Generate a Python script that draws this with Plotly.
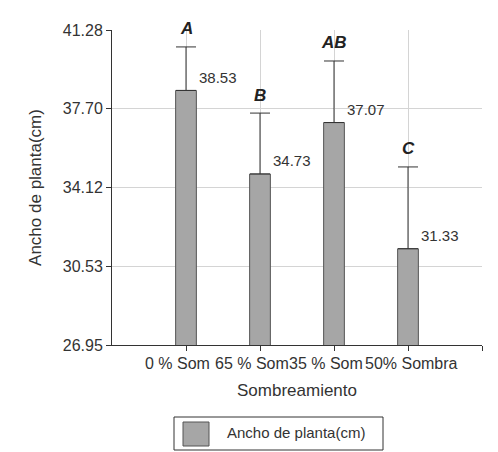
import plotly.graph_objects as go

# Treatments (shade levels), mean plant width and upper error
categories = ["0 % Sombra", "65 % Sombra", "35 % Sombra", "50% Sombra"]
tick_labels = ["0 % Som", "65 % Som", "35 % Som", "50% Sombra"]
means = [38.53, 34.73, 37.07, 31.33]
errors = [1.98, 2.77, 2.80, 3.72]
groups = ["A", "B", "AB", "C"]
y_ticks = [26.95, 30.53, 34.12, 37.70, 41.28]

series_name = "Ancho de planta(cm)"
x_title = "Sombreamiento"

xpos = list(range(len(categories)))
text_col = "#333333"
font_family = "Liberation Sans, Arial, sans-serif"
tick_size = 16

# approximate Arial advance widths (em) for the characters used in labels
_adv = {" ": 0.278, "%": 0.889, "S": 0.667, "o": 0.556, "m": 0.833,
        "b": 0.556, "r": 0.333, "a": 0.556}


def text_width(s, size):
    return sum(_adv.get(ch, 0.556) for ch in s) * size


fig = go.Figure()
fig.add_trace(go.Bar(
    x=xpos,
    y=means,
    base=0,
    width=0.28,
    marker=dict(color="#a6a6a6", line=dict(color="#555555", width=1)),
    error_y=dict(type="data", symmetric=False, array=errors,
                 arrayminus=[0] * len(errors), color="#333333",
                 thickness=1, width=10),
    showlegend=False,
))

annotations = []
# value labels beside each bar
for x, m in zip(xpos, means):
    annotations.append(dict(
        x=x, y=m, xref="x", yref="y", text=f"{m:.2f}", showarrow=False,
        xanchor="left", yanchor="middle", xshift=11, yshift=13,
        font=dict(size=15, color=text_col, family=font_family)))
# significance letters above error bars
for x, m, e, g in zip(xpos, means, errors, groups):
    annotations.append(dict(
        x=x, y=m + e, xref="x", yref="y", text=f"<b><i>{g}</i></b>",
        showarrow=False, xanchor="center", yanchor="middle", yshift=18,
        font=dict(size=17, color="#222222", family=font_family)))
# category labels: each starts where its full name would start when centred
for x, c, t in zip(xpos, categories, tick_labels):
    annotations.append(dict(
        x=x, y=0, xref="x", yref="paper", text=t, showarrow=False,
        xanchor="left", yanchor="top", yshift=-8,
        xshift=-text_width(c, tick_size) / 2 + 1,
        font=dict(size=tick_size, color=text_col, family=font_family)))
# x axis title
annotations.append(dict(
    x=0.5, y=-0.143, xref="paper", yref="paper", text=x_title,
    showarrow=False, xanchor="center", yanchor="middle",
    font=dict(size=17, color=text_col, family=font_family)))
# legend entry
annotations.append(dict(
    x=(225 - 112) / 370, y=(345 - 433) / 315, xref="paper", yref="paper",
    text=series_name, showarrow=False, xanchor="left", yanchor="middle",
    font=dict(size=15, color=text_col, family=font_family)))

shapes = [
    dict(type="rect", xref="paper", yref="paper",
         x0=(174 - 112) / 370, x1=(383 - 112) / 370,
         y0=(345 - 450) / 315, y1=(345 - 417) / 315,
         line=dict(color="#333333", width=1), fillcolor="white", layer="below"),
    dict(type="rect", xref="paper", yref="paper",
         x0=(183 - 112) / 370, x1=(209 - 112) / 370,
         y0=(345 - 446) / 315, y1=(345 - 422) / 315,
         line=dict(color="#555555", width=1), fillcolor="#a6a6a6"),
]

fig.update_layout(
    width=498, height=452,
    margin=dict(l=112, r=16, t=30, b=107),
    paper_bgcolor="white", plot_bgcolor="white",
    font=dict(family=font_family, color=text_col, size=16),
    annotations=annotations,
    shapes=shapes,
    xaxis=dict(
        range=[-1, 4], tickvals=[0, 1, 2, 3, 4], showticklabels=False,
        ticks="outside", ticklen=5, tickcolor="#333333",
        showline=True, linecolor="#333333", linewidth=1,
        showgrid=True, gridcolor="#d4d4d4", gridwidth=1, zeroline=False,
    ),
    yaxis=dict(
        range=[y_ticks[0], y_ticks[-1]], tickvals=y_ticks,
        ticktext=[f"{v:.2f}" for v in y_ticks],
        ticks="outside", ticklen=5, tickcolor="#333333",
        tickfont=dict(size=16, color=text_col),
        showline=True, linecolor="#333333", linewidth=1,
        showgrid=True, gridcolor="#d4d4d4", gridwidth=1, zeroline=False,
        title=dict(text=series_name, standoff=16,
                   font=dict(size=17, color=text_col)),
    ),
)

fig.write_html("out.html")
